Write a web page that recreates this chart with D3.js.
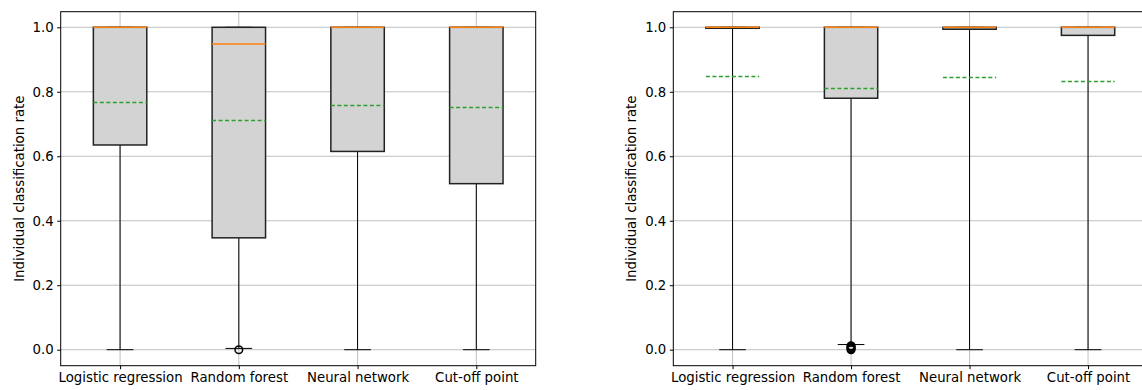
<!DOCTYPE html>
<html>
<head>
<meta charset="utf-8">
<script src="https://cdn.jsdelivr.net/npm/d3@7"></script>
<style>
  body { margin: 0; background: #fff; }
  text { font-family: "DejaVu Sans", sans-serif; fill: #000; }
</style>
</head>
<body>
<div id="chart"></div>
<script>
// categories shared by both panels
const categories = ['Logistic regression', 'Random forest', 'Neural network', 'Cut-off point'];
const yTicks = [0.0, 0.2, 0.4, 0.6, 0.8, 1.0];

// left panel
const leftQ1 = [0.635, 0.347, 0.615, 0.515];
const leftMedian = [1.0, 0.948, 1.0, 1.0];
const leftQ3 = [1.0, 1.0, 1.0, 1.0];
const leftLow = [0.0, 0.004, 0.0, 0.0];
const leftHigh = [1.0, 1.0, 1.0, 1.0];
const leftMean = [0.767, 0.714, 0.760, 0.752];
const leftOutliers = [[], [0.0], [], []];

// right panel
const rightQ1 = [0.997, 0.780, 0.994, 0.975];
const rightMedian = [1.0, 1.0, 1.0, 1.0];
const rightQ3 = [1.0, 1.0, 1.0, 1.0];
const rightLow = [0.0, 0.016, 0.0, 0.0];
const rightHigh = [1.0, 1.0, 1.0, 1.0];
const rightMean = [0.849, 0.812, 0.846, 0.834];
const rightOutliers = [[], [0.0, 0.003, 0.006, 0.009, 0.012], [], []];

const W = 1142, H = 390;
const svg = d3.select('#chart').append('svg')
  .attr('width', W)
  .attr('height', H);

function panel(x0, x1, q1, med, q3, low, high, mean, outliers) {
  const top = 11.7, bottom = 365.7;
  const x = d3.scaleLinear().domain([0.5, 4.5]).range([x0, x1]);
  const y = d3.scaleLinear().domain([-0.0496, 1.0484]).range([bottom, top]);
  const g = svg.append('g');
  const boxW = x(1.45) - x(1);
  const capW = boxW / 2;

  // grid
  g.selectAll('.hgrid').data(yTicks).enter().append('line')
    .attr('x1', x0).attr('x2', x1)
    .attr('y1', d => y(d)).attr('y2', d => y(d))
    .style('stroke', '#b0b0b0').style('stroke-width', 0.8);
  g.selectAll('.vgrid').data(categories).enter().append('line')
    .attr('x1', (d, i) => x(i + 1)).attr('x2', (d, i) => x(i + 1))
    .attr('y1', top).attr('y2', bottom)
    .style('stroke', '#b0b0b0').style('stroke-width', 0.8);

  const items = categories.map((c, i) => ({
    i, q1: q1[i], med: med[i], q3: q3[i], low: low[i], high: high[i], mean: mean[i], out: outliers[i]
  }));

  const b = g.selectAll('.box').data(items).enter().append('g');

  // whiskers
  b.append('line')
    .attr('x1', d => x(d.i + 1)).attr('x2', d => x(d.i + 1))
    .attr('y1', d => y(d.q1)).attr('y2', d => y(d.low))
    .style('stroke', '#000').style('stroke-width', 1);
  b.append('line')
    .attr('x1', d => x(d.i + 1)).attr('x2', d => x(d.i + 1))
    .attr('y1', d => y(d.q3)).attr('y2', d => y(d.high))
    .style('stroke', '#000').style('stroke-width', 1);
  // caps
  b.append('line')
    .attr('x1', d => x(d.i + 1) - capW / 2).attr('x2', d => x(d.i + 1) + capW / 2)
    .attr('y1', d => y(d.low)).attr('y2', d => y(d.low))
    .style('stroke', '#000').style('stroke-width', 1);
  b.append('line')
    .attr('x1', d => x(d.i + 1) - capW / 2).attr('x2', d => x(d.i + 1) + capW / 2)
    .attr('y1', d => y(d.high)).attr('y2', d => y(d.high))
    .style('stroke', '#000').style('stroke-width', 1);

  // box
  b.append('rect')
    .attr('x', d => x(d.i + 1) - boxW / 2)
    .attr('y', d => y(d.q3))
    .attr('width', boxW)
    .attr('height', d => Math.max(0, y(d.q1) - y(d.q3)))
    .style('fill', 'lightgray')
    .style('stroke', '#222')
    .style('stroke-width', 1.5);

  // mean (snapped to the pixel grid so the dashes stay green)
  b.append('line')
    .attr('x1', d => x(d.i + 1) - boxW / 2).attr('x2', d => x(d.i + 1) + boxW / 2)
    .attr('y1', d => Math.round(y(d.mean)) + 0.5).attr('y2', d => Math.round(y(d.mean)) + 0.5)
    .style('stroke', '#2ca02c').style('stroke-width', 1.4)
    .style('stroke-dasharray', '4,2.5');

  // median
  b.append('line')
    .attr('x1', d => x(d.i + 1) - boxW / 2).attr('x2', d => x(d.i + 1) + boxW / 2)
    .attr('y1', d => y(d.med)).attr('y2', d => y(d.med))
    .style('stroke', '#ff7f0e').style('stroke-width', 1.5);

  // outliers
  b.selectAll('circle').data(d => d.out.map(v => ({ i: d.i, v }))).enter().append('circle')
    .attr('cx', d => x(d.i + 1))
    .attr('cy', d => y(d.v))
    .attr('r', 3.8)
    .style('fill', 'none')
    .style('stroke', '#000')
    .style('stroke-width', 1.5);

  // spines
  g.append('rect')
    .attr('x', x0).attr('y', top)
    .attr('width', x1 - x0).attr('height', bottom - top)
    .style('fill', 'none').style('stroke', '#000').style('stroke-width', 1);

  // axes
  const yAxis = d3.axisLeft(y).tickValues(yTicks).tickFormat(d3.format('.1f')).tickSizeOuter(0).tickSize(3.5).tickPadding(3.5);
  const ya = g.append('g').attr('transform', `translate(${x0},0)`).call(yAxis);
  ya.select('.domain').remove();
  ya.selectAll('text').style('font-size', '13.3px').style('font-family', '"DejaVu Sans", sans-serif');

  const xAxis = d3.axisBottom(x).tickValues([1, 2, 3, 4]).tickFormat(d => categories[d - 1]).tickSizeOuter(0).tickSize(3.5).tickPadding(3.5);
  const xa = g.append('g').attr('transform', `translate(0,${bottom})`).call(xAxis);
  xa.select('.domain').remove();
  xa.selectAll('text').style('font-size', '13.3px').style('font-family', '"DejaVu Sans", sans-serif');

  g.append('text')
    .attr('transform', `translate(${x0 - 37},${(top + bottom) / 2}) rotate(-90)`)
    .attr('text-anchor', 'middle')
    .style('font-size', '13.3px')
    .text('Individual classification rate');
}

panel(60.7, 535.7, leftQ1, leftMedian, leftQ3, leftLow, leftHigh, leftMean, leftOutliers);
panel(673.3, 1147.3, rightQ1, rightMedian, rightQ3, rightLow, rightHigh, rightMean, rightOutliers);
</script>
</body>
</html>
